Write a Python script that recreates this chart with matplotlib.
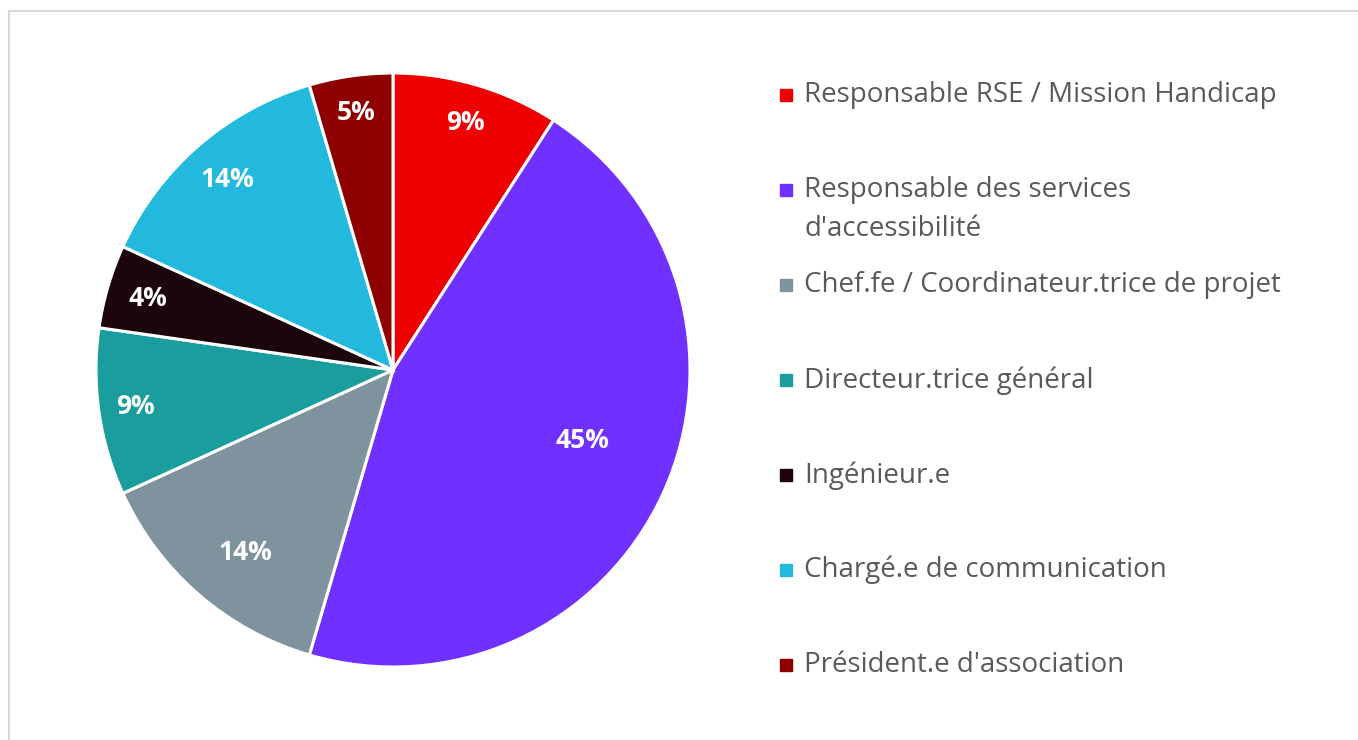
import numpy as np
import matplotlib.pyplot as plt
from matplotlib.patches import Rectangle

# data (counts out of 22 respondents)
roles = ['Responsable RSE / Mission Handicap',
         'Responsable des services\nd\'accessibilité',
         'Chef.fe / Coordinateur.trice de projet',
         'Directeur.trice général',
         'Ingénieur.e',
         'Chargé.e de communication',
         'Président.e d\'association']
counts = [2, 10, 3, 2, 1, 3, 1]
pct_labels = ['9%', '45%', '14%', '9%', '4%', '14%', '5%']
colors = ['#EE0000', '#7030FF', '#7F939F', '#1A9E9D', '#1C060C', '#22B9DD', '#8E0000']
# label placement (fraction of radius, angle nudge in degrees)
label_dist = [0.87, 0.68, 0.79, 0.875, 0.86, 0.85, 0.875]
label_nudge = [0, 4, 2, 0, 0, 0, 0]

plt.rcParams['font.family'] = ['Open Sans', 'DejaVu Sans']

W, H = 1358, 740
fig = plt.figure(figsize=(W / 100, H / 100), dpi=100)

# light frame (only top / left visible in the crop)
fig.patches.append(Rectangle((9 / W, -0.1), 2, (H - 11) / H + 0.1, transform=fig.transFigure,
                             fill=False, edgecolor='#D9D9D9', linewidth=1.5))

cx, cy, r = 393, 370, 297
ax = fig.add_axes([(cx - r) / W, (cy - r) / H, 2 * r / W, 2 * r / H])
wedges, _ = ax.pie(counts, colors=colors, startangle=90, counterclock=False,
                   wedgeprops=dict(edgecolor='white', linewidth=2.2))
ax.set_xlim(-1, 1)
ax.set_ylim(-1, 1)
ax.set_aspect('equal')

for w, lab, d, nd in zip(wedges, pct_labels, label_dist, label_nudge):
    mid = np.deg2rad((w.theta1 + w.theta2) / 2 + nd)
    ax.text(d * np.cos(mid), d * np.sin(mid), lab, ha='center', va='center',
            color='white', fontsize=19, fontweight='bold')

# legend drawn row by row
lx, ty = 786, 95
for i, (role, col) in enumerate(zip(roles, colors)):
    y = ty + 95 * i
    fig.patches.append(Rectangle(((lx - 6) / W, 1 - (y + 6) / H), 12 / W, 12 / H,
                                 transform=fig.transFigure, color=col))
    fig.text(804 / W, 1 - (y - 14) / H, role, ha='left', va='top', fontsize=20,
             color='#595959', linespacing=1.52)

fig.savefig('out.png', dpi=100)
